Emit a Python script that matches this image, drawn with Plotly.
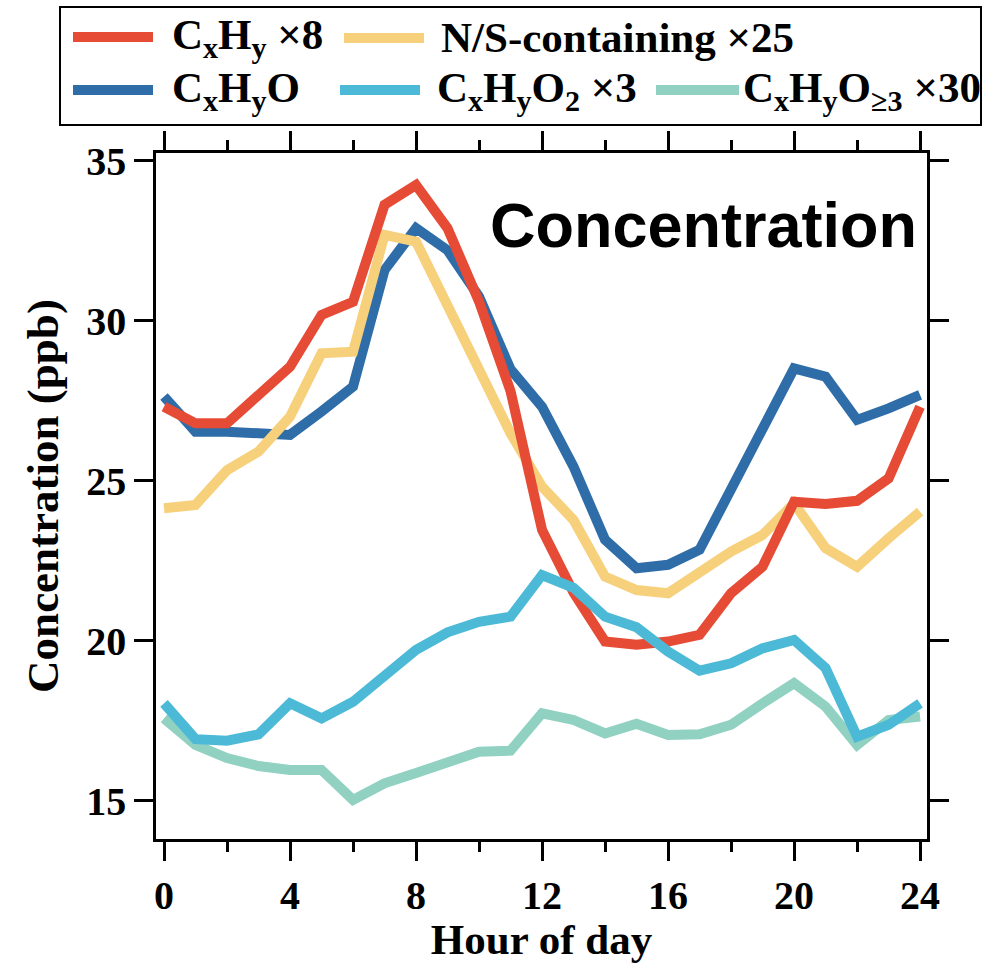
import plotly.graph_objects as go

# Hour of day (0-24)
hours = list(range(25))

# Diurnal profiles (ppb, scaled as labelled)
cxhy_x8 = [27.31, 26.79, 26.79, 27.63, 28.56, 30.18, 30.59, 33.62, 34.24, 32.89,
           30.6, 27.8, 23.46, 21.5, 19.97, 19.87, 19.97, 20.18, 21.48, 22.31,
           24.34, 24.27, 24.37, 25.07, 27.31]
ns_x25 = [24.14, 24.24, 25.33, 25.91, 27.0, 28.98, 29.03, 32.68, 32.47, 30.44,
          28.36, 26.48, 24.81, 23.77, 22.0, 21.58, 21.48, 22.16, 22.78, 23.3,
          24.29, 22.89, 22.31, 23.2, 24.03]
cxhyo = [27.63, 26.53, 26.53, 26.5, 26.43, 27.16, 27.94, 31.58, 32.89, 32.2,
         30.75, 28.48, 27.31, 25.44, 23.15, 22.26, 22.37, 22.84, 24.71, 26.48,
         28.51, 28.25, 26.9, 27.26, 27.68]
cxhyo2_x3 = [18.04, 16.92, 16.87, 17.07, 18.04, 17.57, 18.09, 18.93, 19.71, 20.26,
             20.59, 20.75, 22.05, 21.65, 20.75, 20.42, 19.66, 19.06, 19.29, 19.76,
             20.02, 19.14, 17.0, 17.37, 18.04]
cxhyo3_x30 = [17.57, 16.74, 16.33, 16.08, 15.96, 15.96, 15.02, 15.54, 15.86, 16.19,
              16.53, 16.56, 17.73, 17.52, 17.1, 17.4, 17.05, 17.07, 17.37, 18.04,
              18.67, 17.94, 16.74, 17.52, 17.63]

# Series labels and colours
labels = {
    "cxhy": "C<sub>x</sub>H<sub>y</sub> ×8",
    "ns": "N/S-containing ×25",
    "cxhyo": "C<sub>x</sub>H<sub>y</sub>O",
    "cxhyo2": "C<sub>x</sub>H<sub>y</sub>O<sub>2</sub> ×3",
    "cxhyo3": "C<sub>x</sub>H<sub>y</sub>O<sub>≥3</sub> ×30",
}
colors = {
    "cxhy": "#E64B35",
    "ns": "#F7D07C",
    "cxhyo": "#2F6DA8",
    "cxhyo2": "#4CBAD6",
    "cxhyo3": "#91D1C2",
}
values = {
    "cxhy": cxhy_x8,
    "ns": ns_x25,
    "cxhyo": cxhyo,
    "cxhyo2": cxhyo2_x3,
    "cxhyo3": cxhyo3_x30,
}

x_ticks = [0, 4, 8, 12, 16, 20, 24]
y_ticks = [15, 20, 25, 30, 35]

W, H = 994, 963
M_L, M_R, M_T, M_B = 156, 67, 153, 124
PW, PH = W - M_L - M_R, H - M_T - M_B

SERIF = "Liberation Serif, Times New Roman, serif"
SANS = "Liberation Sans, Arial, sans-serif"

fig = go.Figure()

# drawing order: later series sit on top
for key in ["cxhyo3", "cxhyo", "ns", "cxhy", "cxhyo2"]:
    fig.add_trace(go.Scatter(
        x=hours, y=values[key], mode="lines", name=labels[key],
        line=dict(color=colors[key], width=10),
        showlegend=False,
    ))


def px_x(px):
    return (px - M_L) / PW


def px_y(py):
    return (H - M_B - py) / PH


shapes = []
annotations = []

# framed legend above the plot
shapes.append(dict(type="rect", xref="paper", yref="paper",
                   x0=px_x(60), x1=px_x(981), y0=px_y(125), y1=px_y(7),
                   line=dict(color="black", width=2), fillcolor="white", layer="above"))

legend_items = [
    # key, sample start, sample end, text start, row centre
    ("cxhy", 73, 153, 170, 38),
    ("ns", 344, 424, 439, 38),
    ("cxhyo", 73, 153, 170, 91),
    ("cxhyo2", 340, 420, 435, 91),
    ("cxhyo3", 656, 739, 741, 91),
]
for key, s0, s1, t0, yc in legend_items:
    yl = yc - 1 if key != "ns" else yc
    shapes.append(dict(type="line", xref="paper", yref="paper",
                       x0=px_x(s0), x1=px_x(s1), y0=px_y(yl), y1=px_y(yl),
                       line=dict(color=colors[key], width=10), layer="above"))
    annotations.append(dict(xref="paper", yref="paper", x=px_x(t0), y=px_y(yc),
                            xanchor="left", yanchor="middle", text="<b>%s</b>" % labels[key],
                            showarrow=False, font=dict(family=SERIF, size=43, color="black")))

# panel label
annotations.append(dict(xref="paper", yref="paper", x=px_x(919), y=px_y(225),
                        xanchor="right", yanchor="middle", text="<b>Concentration</b>",
                        showarrow=False, font=dict(family=SANS, size=63, color="black")))

fig.update_layout(
    width=W, height=H,
    margin=dict(l=M_L, r=M_R, t=M_T, b=M_B, pad=0, autoexpand=False),
    paper_bgcolor="white", plot_bgcolor="white",
    showlegend=False,
    shapes=shapes, annotations=annotations,
    font=dict(family=SERIF, size=40, color="black"),
)

fig.update_xaxes(
    range=[-0.254, 24.22], tickmode="array", tickvals=x_ticks,
    ticktext=["<b>%d</b>" % v for v in x_ticks],
    ticks="outside", ticklen=19, tickwidth=2.5, tickcolor="black",
    minor=dict(dtick=2, tick0=0, ticks="outside", ticklen=10, tickwidth=2.5, tickcolor="black"),
    showline=True, linewidth=2.5, linecolor="black", mirror="ticks",
    showgrid=False, zeroline=False, automargin=False,
    tickfont=dict(family=SERIF, size=40, color="black"),
    title=dict(text="<b>Hour of day</b>", font=dict(family=SERIF, size=43, color="black"), standoff=10),
)
fig.update_yaxes(
    range=[13.80, 35.24], tickmode="array", tickvals=y_ticks,
    ticktext=["<b>%d</b>" % v for v in y_ticks],
    ticks="outside", ticklen=19, tickwidth=2.5, tickcolor="black",
    showline=True, linewidth=2.5, linecolor="black", mirror="ticks",
    showgrid=False, zeroline=False, automargin=False,
    tickfont=dict(family=SERIF, size=40, color="black"),
    title=dict(text="<b>Concentration (ppb)</b>", font=dict(family=SERIF, size=45, color="black"), standoff=14),
)

fig.write_html("out.html")
